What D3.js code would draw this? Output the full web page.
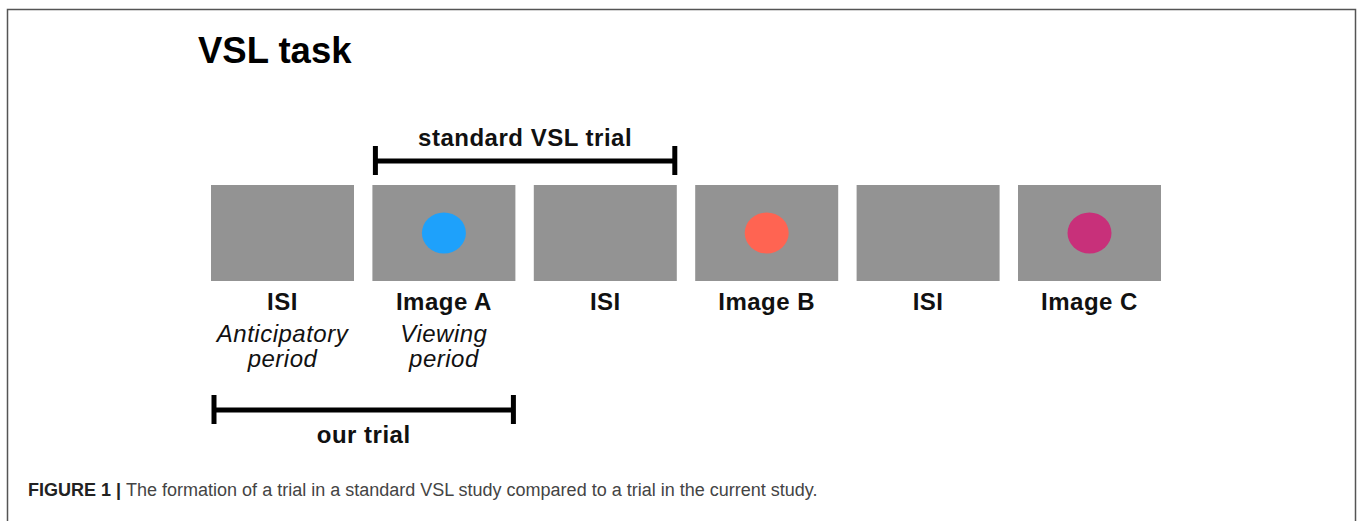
<!DOCTYPE html>
<html>
<head>
<meta charset="utf-8">
<script src="https://cdn.jsdelivr.net/npm/d3@7"></script>
<style>
  body { margin: 0; background: #fff; }
  svg { display: block; }
</style>
</head>
<body>
<div id="figure"></div>
<script>
var width = 1357,
    height = 521;

// sequence of screens in the task
var stages = ["ISI", "Image A", "ISI", "Image B", "ISI", "Image C"];
var stimulusColors = [null, "#1ea1fb", null, "#ff6452", null, "#c8307a"];
var subLabels = [["Anticipatory", "period"], ["Viewing", "period"], [], [], [], []];

// brackets span screens by index
var bracketLabels = ["standard VSL trial", "our trial"];
var bracketFrom = [1, 0];
var bracketTo = [2, 1];

var svg = d3.select("#figure").append("svg")
    .attr("width", width)
    .attr("height", height);

// frame
svg.append("path")
    .attr("d", "M7.5," + height + "V9.5H1355.5V" + height)
    .attr("fill", "none")
    .attr("stroke", "#555")
    .attr("stroke-width", 1.5);

svg.append("text")
    .attr("x", 198)
    .attr("y", 63)
    .attr("font-family", "'Liberation Sans', Arial, sans-serif")
    .attr("font-weight", "bold")
    .attr("font-size", "36.5px")
    .attr("fill", "#000")
    .text("VSL task");

var x = d3.scaleBand()
    .domain(d3.range(stages.length))
    .range([211, 1161])
    .paddingInner(0.114)
    .paddingOuter(0);

var y = d3.scaleLinear()
    .domain([0, 1])
    .range([281, 185]);

var screens = svg.selectAll(".screen")
    .data(stages)
    .enter().append("g")
    .attr("class", "screen")
    .attr("transform", function(d, i) { return "translate(" + x(i) + ",0)"; });

screens.append("rect")
    .attr("x", 0)
    .attr("y", y(1))
    .attr("width", x.bandwidth())
    .attr("height", y(0) - y(1))
    .attr("fill", "#939393");

screens.filter(function(d, i) { return stimulusColors[i]; })
    .append("ellipse")
    .attr("cx", x.bandwidth() / 2)
    .attr("cy", y(0.5))
    .attr("rx", 22)
    .attr("ry", 20.5)
    .attr("fill", function(d) { return stimulusColors[stages.indexOf(d)]; });

screens.append("text")
    .attr("x", x.bandwidth() / 2)
    .attr("y", 310)
    .attr("text-anchor", "middle")
    .attr("font-family", "'Liberation Sans', Arial, sans-serif")
    .attr("font-weight", "bold")
    .attr("font-size", "24px")
    .attr("letter-spacing", "0.5px")
    .attr("fill", "#111")
    .text(function(d) { return d; });

screens.each(function(d, i) {
    d3.select(this).selectAll(".sub-label")
        .data(subLabels[i])
        .enter().append("text")
        .attr("class", "sub-label")
        .attr("x", x.bandwidth() / 2)
        .attr("y", function(s, j) { return 342 + j * 25; })
        .attr("text-anchor", "middle")
        .attr("font-family", "'Liberation Sans', Arial, sans-serif")
        .attr("font-style", "italic")
        .attr("font-size", "24px")
        .attr("letter-spacing", "0.5px")
        .attr("fill", "#111")
        .text(function(s) { return s; });
});

// brackets: first one above the screens, second one below
var bracketY = [161, 410];
var labelY = [146, 443];

bracketLabels.forEach(function(label, k) {
    var x0 = x(bracketFrom[k]) + 3,
        x1 = x(bracketTo[k]) + x.bandwidth() - 2,
        by = bracketY[k];
    var g = svg.append("g").attr("class", "bracket");
    g.append("line")
        .attr("x1", x0).attr("x2", x1)
        .attr("y1", by).attr("y2", by)
        .attr("stroke", "#000")
        .attr("stroke-width", 5);
    [x0, x1].forEach(function(tx) {
        g.append("line")
            .attr("x1", tx).attr("x2", tx)
            .attr("y1", by - 15).attr("y2", by + 14)
            .attr("stroke", "#000")
            .attr("stroke-width", 5);
    });
    g.append("text")
        .attr("x", (x0 + x1) / 2)
        .attr("y", labelY[k])
        .attr("text-anchor", "middle")
        .attr("font-family", "'Liberation Sans', Arial, sans-serif")
        .attr("font-weight", "bold")
        .attr("font-size", "24px")
        .attr("letter-spacing", "0.5px")
        .attr("fill", "#111")
        .text(label);
});

// caption
var caption = svg.append("text")
    .attr("x", 28)
    .attr("y", 496)
    .attr("font-family", "'Liberation Sans', Arial, sans-serif")
    .attr("font-size", "18px");
caption.append("tspan")
    .attr("font-weight", "bold")
    .attr("fill", "#222")
    .text("FIGURE 1 ");
caption.append("tspan")
    .attr("fill", "#222")
    .attr("font-weight", "bold")
    .text("| ");
caption.append("tspan")
    .attr("fill", "#444")
    .text("The formation of a trial in a standard VSL study compared to a trial in the current study.");
</script>
</body>
</html>
